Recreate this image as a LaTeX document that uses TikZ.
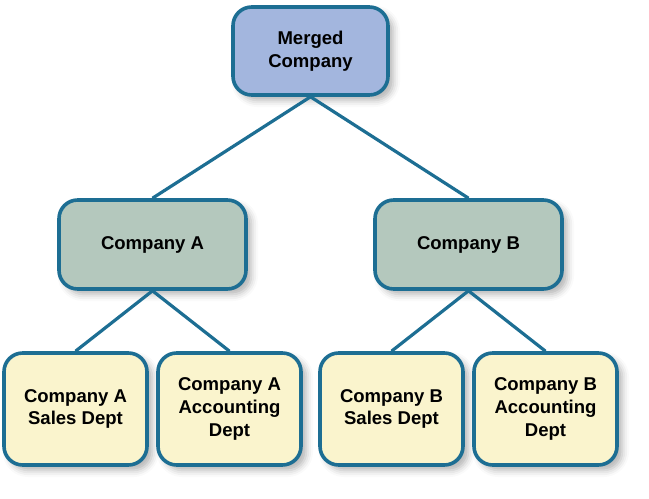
\documentclass[tikz,border=0pt]{standalone}
\usepackage{fontspec}
\setmainfont{Liberation Sans}
\usetikzlibrary{shadows.blur}
\definecolor{edgeblue}{HTML}{1D6E93}
\definecolor{topfill}{HTML}{A3B6DE}
\definecolor{midfill}{HTML}{B4C8BD}
\definecolor{lowfill}{HTML}{FAF4CD}
\tikzset{
  px/.style={x=0.75pt,y=-0.75pt},
  box/.style={draw=edgeblue, line width=2.7pt, rounded corners=14pt, align=center,
    font=\fontsize{13.9}{17}\selectfont\bfseries, inner sep=0pt,
    blur shadow={shadow xshift=4pt, shadow yshift=-4pt, shadow blur radius=5pt, shadow opacity=30}},
  topbox/.style={box, fill=topfill, minimum width=116.25pt, minimum height=66pt},
  midbox/.style={box, fill=midfill, minimum width=140.25pt, minimum height=66.75pt},
  lowbox/.style={box, fill=lowfill, minimum width=107.25pt, minimum height=84pt},
  link/.style={draw=edgeblue, line width=2.4pt}
}
\begin{document}
\begin{tikzpicture}[px]
\useasboundingbox (0,0) rectangle (649,499);
\node[topbox] (m) at (310.5,51) {Merged\\Company};
\node[midbox] (a) at (152.5,244.5) {Company A};
\node[midbox] (b) at (468.5,244.5) {Company B};
\node[lowbox] (as) at (75.5,409) {Company A\\Sales Dept};
\node[lowbox] (aa) at (229.5,409) {Company A\\Accounting\\Dept};
\node[lowbox] (bs) at (391.5,409) {Company B\\Sales Dept};
\node[lowbox] (ba) at (545.5,409) {Company B\\Accounting\\Dept};
\begin{scope}[on background layer/.try]
\end{scope}
\draw[link] (m.south) -- (a.north);
\draw[link] (m.south) -- (b.north);
\draw[link] (a.south) -- (as.north);
\draw[link] (a.south) -- (aa.north);
\draw[link] (b.south) -- (bs.north);
\draw[link] (b.south) -- (ba.north);
\end{tikzpicture}
\end{document}
